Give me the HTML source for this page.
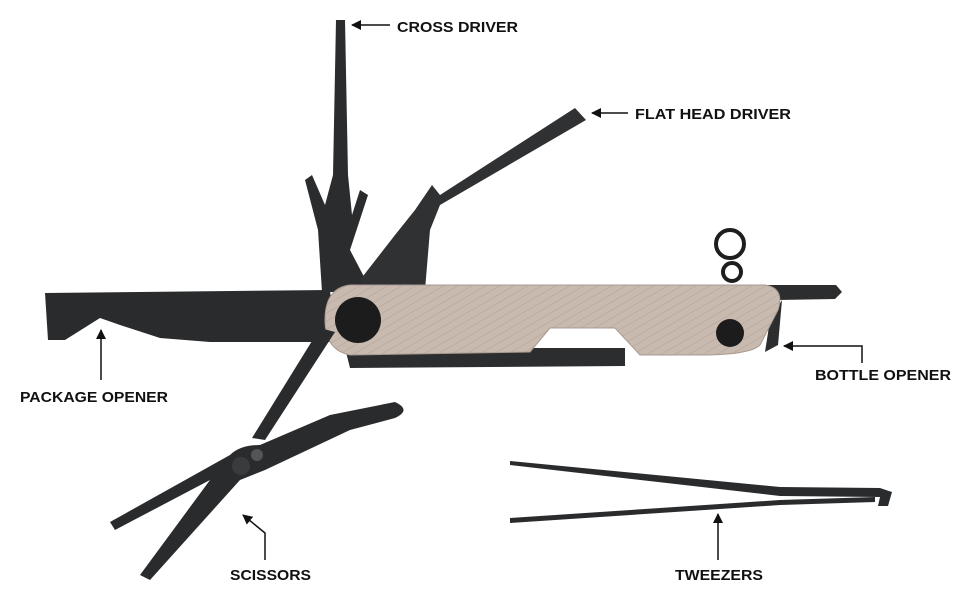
<!DOCTYPE html>
<html><head><meta charset="utf-8"><style>
html,body{margin:0;padding:0;background:#fff;}
svg{display:block;}
text{font-family:"Liberation Sans",sans-serif;font-weight:bold;font-size:15px;fill:#111;}
</style></head><body>
<svg width="970" height="600" viewBox="0 0 970 600" xmlns="http://www.w3.org/2000/svg">
<defs>
<marker id="ah" markerWidth="10" markerHeight="10" refX="9" refY="5" orient="auto" markerUnits="userSpaceOnUse">
<path d="M0,0 L10,5 L0,10 Z" fill="#111"/></marker>
<pattern id="hatch" width="7" height="7" patternUnits="userSpaceOnUse" patternTransform="rotate(60)">
<rect width="7" height="7" fill="#c9bab0"/><line x1="0" y1="0" x2="0" y2="7" stroke="#b8a99e" stroke-width="1.5"/></pattern>
</defs>
<!-- cross driver -->
<path d="M336,20 L345,20 L348,175 L352,215 L360,190 L368,195 L350,250 L372,292 L322,292 L318,230 L305,180 L312,175 L325,205 L333,175 Z" fill="#2b2c2e"/>
<!-- flat head driver -->
<path d="M575,108 L586,120 L440,205 L430,230 L425,290 L365,292 L360,280 L395,235 L415,210 L432,185 L440,195 Z" fill="#303133"/>
<!-- package opener -->
<path d="M45,293 L330,290 L335,342 L210,342 L160,338 L120,325 L100,318 L65,340 L48,340 Z" fill="#2a2b2d"/>
<!-- handle dark strip + tail -->
<path d="M345,348 L625,348 L625,366 L350,368 Z" fill="#2c2d2f"/>
<path d="M765,285 L836,285 L842,292 L835,299 L778,300 Z" fill="#2c2d2f"/>
<path d="M770,320 L782,300 L778,345 L765,352 Z" fill="#2c2d2f"/>
<!-- key rings -->
<circle cx="730" cy="244" r="14" fill="none" stroke="#1e1e1f" stroke-width="4"/>
<circle cx="732" cy="272" r="9" fill="none" stroke="#1e1e1f" stroke-width="4"/>
<!-- handle tan -->
<path d="M350,285 L765,285 Q785,288 778,310 L760,345 Q750,355 700,355 L640,355 L615,328 L550,328 L530,352 L350,355 Q325,350 325,320 Q325,288 350,285 Z" fill="url(#hatch)" stroke="#a89a90" stroke-width="1"/>
<circle cx="358" cy="320" r="23" fill="#1c1c1d"/>
<circle cx="730" cy="333" r="14" fill="#1c1c1d"/>
<!-- scissors -->
<path d="M320,328 L335,332 L265,440 L252,438 Z" fill="#2a2b2d"/>
<path d="M395,402 Q412,410 395,418 L350,430 L265,470 L240,480 L150,580 L140,575 L210,480 L115,530 L110,522 L230,455 Q240,445 260,445 L330,415 Z" fill="#2a2b2d"/>
<circle cx="241" cy="466" r="9" fill="#3a3b3d"/>
<circle cx="257" cy="455" r="6" fill="#555"/>
<!-- tweezers -->
<path d="M510,461 L780,487 L880,488 L892,492 L888,506 L878,506 L880,497 L780,496 L510,465 Z" fill="#2a2b2d"/>
<path d="M510,518 L780,500 L875,497 L875,502 L780,505 L510,523 Z" fill="#2a2b2d"/>
<!-- arrows -->
<g stroke="#111" stroke-width="1.5" fill="none">
<line x1="390" y1="25" x2="352" y2="25" marker-end="url(#ah)"/>
<line x1="628" y1="113" x2="592" y2="113" marker-end="url(#ah)"/>
<line x1="101" y1="380" x2="101" y2="330" marker-end="url(#ah)"/>
<polyline points="862,363 862,346 784,346" marker-end="url(#ah)"/>
<polyline points="265,560 265,533 243,515" marker-end="url(#ah)"/>
<line x1="718" y1="560" x2="718" y2="514" marker-end="url(#ah)"/>
</g>
<text x="397" y="32" textLength="121" lengthAdjust="spacingAndGlyphs">CROSS DRIVER</text>
<text x="635" y="119" textLength="156" lengthAdjust="spacingAndGlyphs">FLAT HEAD DRIVER</text>
<text x="20" y="402" textLength="148" lengthAdjust="spacingAndGlyphs">PACKAGE OPENER</text>
<text x="815" y="380" textLength="136" lengthAdjust="spacingAndGlyphs">BOTTLE OPENER</text>
<text x="230" y="580" textLength="81" lengthAdjust="spacingAndGlyphs">SCISSORS</text>
<text x="675" y="580" textLength="88" lengthAdjust="spacingAndGlyphs">TWEEZERS</text>
</svg>
</body></html>
